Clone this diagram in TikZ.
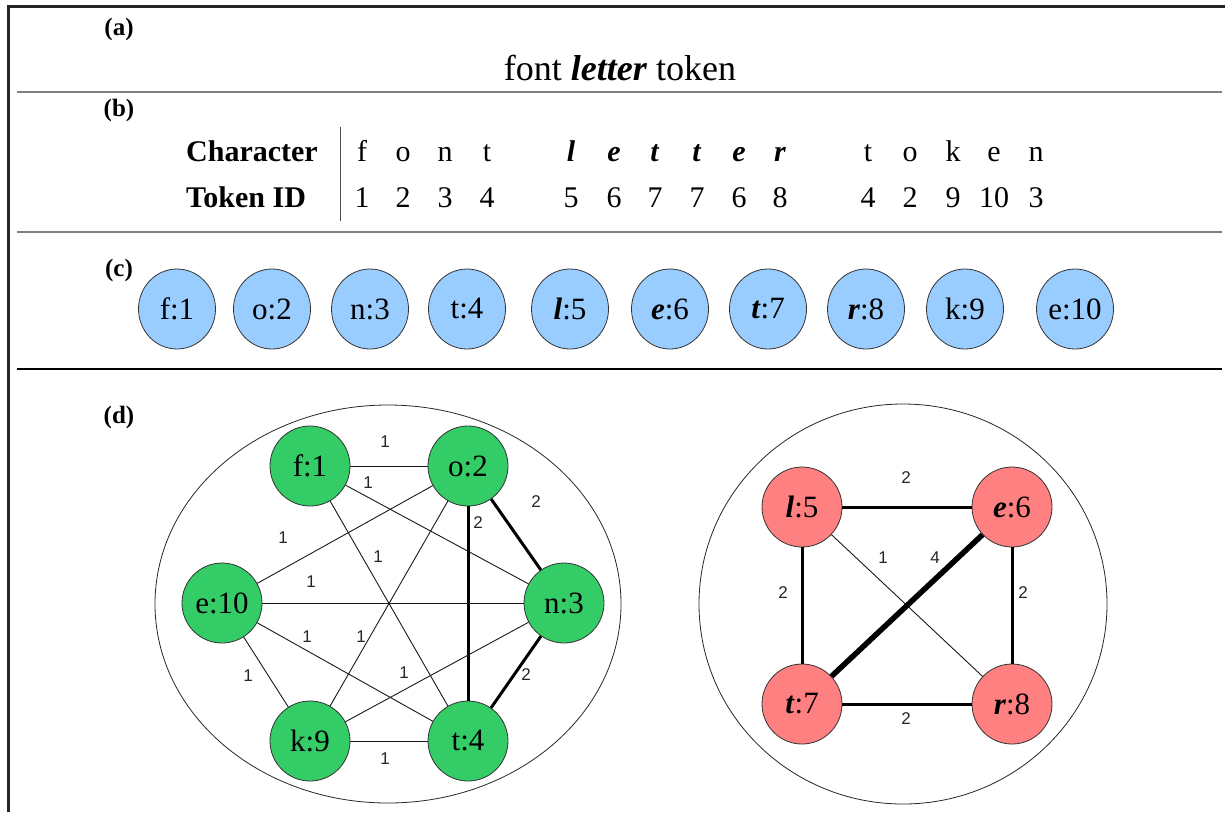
\documentclass[tikz,border=0pt]{standalone}
\usepackage{fontspec}
\setmainfont{Liberation Serif}
\newfontfamily\lblfont{Liberation Sans}
\usetikzlibrary{shapes.geometric}
\definecolor{tokblue}{HTML}{99CCFF}
\definecolor{grgreen}{HTML}{33CC66}
\definecolor{grred}{HTML}{FF8080}
\newcommand{\bi}[1]{\textbf{\textit{#1}}}
\begin{document}
\begin{tikzpicture}[x=1pt,y=-1pt,
  seclbl/.style={font=\fontsize{25}{27}\selectfont\bfseries, anchor=base, inner sep=0pt},
  cell/.style={font=\fontsize{30}{32}\selectfont, anchor=base, inner sep=0pt},
  rowhead/.style={font=\fontsize{30}{32}\selectfont\bfseries, anchor=base west, inner sep=0pt},
  tok/.style={ellipse, draw=black!80, line width=0.8pt, fill=tokblue, minimum width=77pt, minimum height=80pt, inner sep=0pt, font=\fontsize{31}{33}\selectfont},
  gnode/.style={circle, draw=black!80, line width=0.8pt, fill=grgreen, minimum size=80pt, inner sep=0pt, font=\fontsize{31}{33}\selectfont},
  rnode/.style={circle, draw=black!80, line width=0.8pt, fill=grred, minimum size=80pt, inner sep=0pt, font=\fontsize{31}{33}\selectfont},
  lbl/.style={font=\lblfont\fontsize{17}{17}\selectfont, inner sep=0pt, text=black!85},
  w1/.style={line width=0.9pt, draw=black!90},
  w2/.style={line width=3pt, draw=black},
  w4/.style={line width=5.5pt, draw=black},
  sepgrey/.style={line width=2pt, draw=black!50},
  group/.style={line width=0.8pt, draw=black!85}
]
\useasboundingbox (0,0) rectangle (1225,812);
% frame
\draw[line width=3pt, draw=black!85] (8,812) -- (8,6) -- (1225,6);
% separators
\draw[sepgrey] (17,92) -- (1222,92);
\draw[sepgrey] (17,232) -- (1222,232);
\draw[line width=1.1pt, draw=black] (17,369) -- (1222,369);

% (a)
\node[seclbl] (la) at (119,35) {(a)};
\node[font=\fontsize{36}{38}\selectfont, anchor=base, inner sep=0pt] (sent) at (620,80) {font \bi{letter} token};

% (b)
\node[seclbl] (lb) at (119,116) {(b)};
\node[rowhead] (charhead) at (186,161) {Character};
\node[rowhead] (idhead) at (186,207) {Token ID};
\draw[line width=1pt, draw=black!70] (340,127) -- (340,221);
\foreach \x/\c/\n [count=\i] in {362/f/1, 403/o/2, 445/n/3, 487/t/4,
   571/\bi{l}/5, 614/\bi{e}/6, 655/\bi{t}/7, 697/\bi{t}/7, 739/\bi{e}/6, 780/\bi{r}/8,
   868/t/4, 910/o/2, 953/k/9, 994/e/10, 1036/n/3}{
  \node[cell] (ch\i) at (\x,161) {\c};
  \node[cell] (id\i) at (\x,207) {\n};
}

% (c)
\node[seclbl] (lc) at (119,276) {(c)};
\node[tok] (c1) at (177,309) {f:1};
\node[tok] (c2) at (272,309) {o:2};
\node[tok] (c3) at (370,309) {n:3};
\node[tok] (c4) at (467,309) {t:4};
\node[tok] (c5) at (570,309) {\bi{l}:5};
\node[tok] (c6) at (670,309) {\bi{e}:6};
\node[tok] (c7) at (768,309) {\bi{t}:7};
\node[tok] (c8) at (866,309) {\bi{r}:8};
\node[tok] (c9) at (965,309) {k:9};
\node[tok] (c10) at (1075,309) {e:10};

% (d)
\node[seclbl] (ld) at (119,423) {(d)};
\draw[group] (388,604) ellipse [x radius=233, y radius=199];
\draw[group] (903,604) ellipse [x radius=204, y radius=200];

% left graph
\node[gnode] (f) at (310,466) {f:1};
\node[gnode] (o) at (468,466) {o:2};
\node[gnode] (n) at (564,603) {n:3};
\node[gnode] (e) at (222,603) {e:10};
\node[gnode] (k) at (310,741) {k:9};
\node[gnode] (t) at (468,741) {t:4};

\draw[w1] (f) -- (o) node[lbl, at={(385,442)}] {1};
\draw[w1] (f) -- (n) node[lbl, at={(368,483)}] {1};
\draw[w1] (f) -- (t) node[lbl, at={(378,557)}] {1};
\draw[w2] (o) -- (n) node[lbl, at={(536,502)}] {2};
\draw[w2] (o) -- (t) node[lbl, at={(478,523)}] {2};
\draw[w1] (o) -- (e) node[lbl, at={(283,538)}] {1};
\draw[w1] (o) -- (k) node[lbl, at={(361,637)}] {1};
\draw[w1] (e) -- (n) node[lbl, at={(311,582)}] {1};
\draw[w1] (e) -- (t) node[lbl, at={(307,637)}] {1};
\draw[w1] (e) -- (k) node[lbl, at={(248,676)}] {1};
\draw[w1] (k) -- (n) node[lbl, at={(404,673)}] {1};
\draw[w1] (k) -- (t) node[lbl, at={(385,759)}] {1};
\draw[w2] (n) -- (t) node[lbl, at={(526,675)}] {2};

% right graph
\node[rnode] (l5) at (802,507) {\bi{l}:5};
\node[rnode] (e6) at (1012,507) {\bi{e}:6};
\node[rnode] (t7) at (802,704) {\bi{t}:7};
\node[rnode] (r8) at (1012,704) {\bi{r}:8};

\draw[w2] (l5) -- (e6) node[lbl, at={(906,478)}] {2};
\draw[w1] (l5) -- (r8) node[lbl, at={(883,558)}] {1};
\draw[w4] (e6) -- (t7) node[lbl, at={(935,558)}] {4};
\draw[w2] (l5) -- (t7) node[lbl, at={(783,593)}] {2};
\draw[w2] (e6) -- (r8) node[lbl, at={(1023,593)}] {2};
\draw[w2] (t7) -- (r8) node[lbl, at={(906,719)}] {2};
\end{tikzpicture}
\end{document}
